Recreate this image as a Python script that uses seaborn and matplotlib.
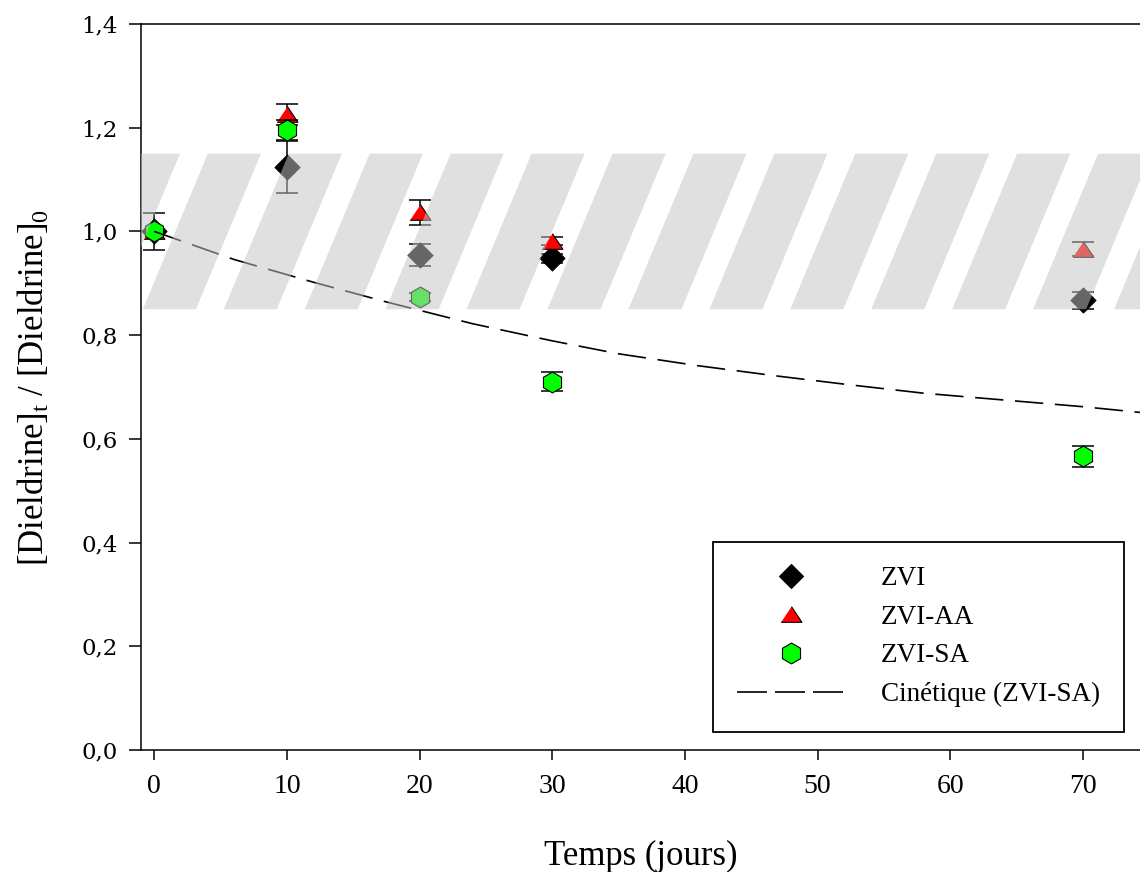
import numpy as np
import pandas as pd
import matplotlib
matplotlib.use("Agg")
import matplotlib.pyplot as plt
from matplotlib.lines import Line2D
import seaborn as sns

# ---------------- data ----------------
times = [0, 10, 20, 30, 70]

zvi_vals = [1.000, 1.124, 0.955, 0.948, 0.867]
zvi_err = [0.000, 0.050, 0.021, 0.008, 0.017]

zviaa_vals = [1.000, 1.226, 1.037, 0.982, 0.966]
zviaa_err = [0.000, 0.020, 0.024, 0.008, 0.014]

zvisa_vals = [1.000, 1.196, 0.874, 0.710, 0.566]
zvisa_err = [0.036, 0.019, 0.008, 0.018, 0.020]

kin_t = [0, 6, 12, 17.5, 24, 30, 35, 41, 47, 52.5, 58, 64, 70, 74.3]
kin_v = [1.000, 0.946, 0.902, 0.864, 0.822, 0.789, 0.764, 0.741, 0.721,
         0.704, 0.688, 0.675, 0.662, 0.651]

series_names = ["ZVI", "ZVI-AA", "ZVI-SA"]
kin_name = "Cinétique (ZVI-SA)"
y_ticks = [0.0, 0.2, 0.4, 0.6, 0.8, 1.0, 1.2, 1.4]
y_ticklabels = ["0,0", "0,2", "0,4", "0,6", "0,8", "1,0", "1,2", "1,4"]
x_ticks = [0, 10, 20, 30, 40, 50, 60, 70]

# hatched band (uncertainty zone)
band_lo, band_hi = 0.85, 1.15

# ---------------- style ----------------
sns.set_theme(style="ticks")
plt.rcParams["font.family"] = ["Liberation Serif", "DejaVu Serif"]
plt.rcParams["mathtext.fontset"] = "custom"
plt.rcParams["mathtext.rm"] = "Liberation Serif"
plt.rcParams["mathtext.it"] = "Liberation Serif:italic"
plt.rcParams["text.color"] = "black"
plt.rcParams["axes.labelcolor"] = "black"
plt.rcParams["xtick.color"] = "black"
plt.rcParams["ytick.color"] = "black"

fig = plt.figure(figsize=(11.4, 8.72), dpi=100)
ax = fig.add_axes([141 / 1140, 122 / 872, 999 / 1140, 726 / 872])

tri = [(-1, -0.75), (1, -0.75), (0, 0.75)]
styles = {
    "ZVI": dict(marker="D", color="black", ms=12.7),
    "ZVI-AA": dict(marker=tri, color="#ff0000", ms=15),
    "ZVI-SA": dict(marker="h", color="#00ff00", ms=15),
}
vals = {"ZVI": (zvi_vals, zvi_err), "ZVI-AA": (zviaa_vals, zviaa_err),
        "ZVI-SA": (zvisa_vals, zvisa_err)}

z = 2.0
for name in series_names:
    v, e = vals[name]
    st = styles[name]
    ax.errorbar(times, v, yerr=e, fmt="none", ecolor="black", elinewidth=1.1,
                capsize=8, capthick=1.1, zorder=z)
    df = pd.DataFrame({"t": times, "v": v})
    sns.scatterplot(data=df, x="t", y="v", marker=st["marker"], s=st["ms"] ** 2,
                    color=st["color"], edgecolor="black", linewidth=0.8,
                    ax=ax, zorder=z + 0.1, legend=False)
    z += 0.2

kdf = pd.DataFrame({"t": kin_t, "v": kin_v})
sns.lineplot(data=kdf, x="t", y="v", color="black", linewidth=1.2, ax=ax,
             zorder=2.7, dashes=False)
ax.lines[-1].set_dashes((17, 7))

# striped band drawn over the points (semi-transparent)
period, stripe_w, shear, x_start = 6.10, 4.0, 4.9, -2.06
for k in range(16):
    xl = x_start + period * k
    ax.fill([xl - shear, xl - shear + stripe_w, xl + stripe_w, xl],
            [band_lo, band_lo, band_hi, band_hi],
            color=(196 / 255, 196 / 255, 196 / 255), alpha=0.52,
            linewidth=0, zorder=2.9)

ax.set_xlim(-1.0, 74.3)
ax.set_ylim(0, 1.4)
ax.set_xticks(x_ticks)
ax.set_xticklabels([str(t) for t in x_ticks], fontsize=20,
                   family="Liberation Serif")
ax.set_yticks(y_ticks)
ax.set_yticklabels(y_ticklabels, fontsize=16.5, family="DejaVu Serif")
ax.tick_params(axis="y", length=9, width=1.1, pad=8, color="black")
ax.tick_params(axis="x", length=7, width=1.1, pad=10, color="black")

for side in ["left", "bottom", "top"]:
    ax.spines[side].set_linewidth(1.1)
    ax.spines[side].set_color("black")
ax.spines["right"].set_visible(False)

ax.set_xlabel("Temps (jours)", fontsize=25)
ax.set_ylabel(r"[Dieldrine]$_{\mathrm{t}}$ / [Dieldrine]$_{\mathrm{0}}$",
              fontsize=25)
ax.xaxis.set_label_coords(0.5, -0.124)
ax.yaxis.set_label_coords(-0.089, 0.5)

handles = [
    Line2D([], [], linestyle="none", marker="D", markersize=12.7,
           markerfacecolor="black", markeredgecolor="black", markeredgewidth=0.8),
    Line2D([], [], linestyle="none", marker=tri, markersize=15,
           markerfacecolor="#ff0000", markeredgecolor="black", markeredgewidth=0.8),
    Line2D([], [], linestyle="none", marker="h", markersize=15,
           markerfacecolor="#00ff00", markeredgecolor="black", markeredgewidth=0.8),
    Line2D([], [], color="black", linewidth=1.2, dashes=(18, 4.8)),
]
leg = ax.legend(handles, series_names + [kin_name], loc="upper left",
                bbox_to_anchor=(713 / 1140, 1 - 542 / 872),
                bbox_transform=fig.transFigure, fontsize=19.5,
                frameon=True, fancybox=False, framealpha=1, edgecolor="black",
                handlelength=3.95, handletextpad=1.35, labelspacing=0.5,
                borderpad=0.9, borderaxespad=0)
leg.get_frame().set_linewidth(1.3)

fig.savefig("out.png", dpi=100)
